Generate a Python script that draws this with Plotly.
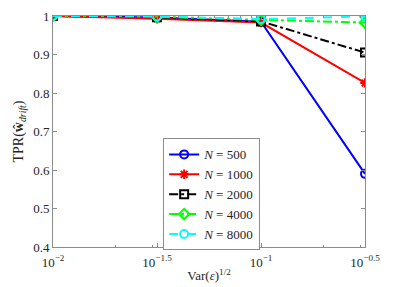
import numpy as np
import plotly.graph_objects as go

x_vals = [10**-2, 10**-1.5, 10**-1, 10**-0.5]
n_labels = ["500", "1000", "2000", "4000", "8000"]
tpr_500 = [1.0, 0.996, 0.985, 0.59]
tpr_1000 = [1.0, 0.993, 0.983, 0.826]
tpr_2000 = [1.0, 0.997, 0.986, 0.905]
tpr_4000 = [1.0, 0.998, 0.990, 0.983]
tpr_8000 = [1.0, 0.999, 0.992, 0.999]
x_tick_vals = [10**-2, 10**-1.5, 10**-1, 10**-0.5]
x_tick_text = ["10<sup>−2</sup>", "10<sup>−1.5</sup>", "10<sup>−1</sup>", "10<sup>−0.5</sup>"]
y_tick_vals = [0.4, 0.5, 0.6, 0.7, 0.8, 0.9, 1.0]
y_tick_text = ["0.4", "0.5", "0.6", "0.7", "0.8", "0.9", "1"]

series = [tpr_500, tpr_1000, tpr_2000, tpr_4000, tpr_8000]
colors = ["#0000ff", "#ff0000", "#000000", "#00ff00", "#00ffff"]
dashes = ["solid", "solid", "dashdot", "dashdot", "dash"]
symbols = ["circle-open", "asterisk-open", "square-open", "diamond-open", "circle-open"]

fig = go.Figure()
for vals, lab, c, d, s in zip(series, n_labels, colors, dashes, symbols):
    fig.add_trace(go.Scatter(
        x=x_vals, y=vals, mode="lines+markers",
        name=f"<i>N</i> = {lab}",
        line=dict(color=c, width=2, dash=d),
        marker=dict(symbol=s, size=8, color=c, line=dict(color=c, width=2)),
    ))

minor_x = []
for k in [-2, -1]:
    for m in range(2, 10):
        v = m * 10**k
        if v <= 10**-0.5:
            minor_x.append(v)

FONT = "Liberation Serif, serif"
axis_common = dict(
    showline=True, linecolor="#8c8c8c", linewidth=1, mirror="ticks",
    ticks="inside", ticklen=4, tickcolor="#8c8c8c", showgrid=False, zeroline=False,
    tickfont=dict(family=FONT, size=13, color="#262626"),
    automargin=False,
)

# page body adds an 8px offset; figure sized/margined to compensate
fig.update_layout(
    width=387, height=279,
    margin=dict(l=45, r=30, t=8, b=40),
    paper_bgcolor="white", plot_bgcolor="white",
    font=dict(family=FONT, size=13, color="#262626"),
    xaxis=dict(type="log", range=[-2, -0.5], tickmode="array",
               tickvals=x_tick_vals, ticktext=x_tick_text,
               ticklabelstandoff=3,
               minor=dict(tickmode="array", tickvals=minor_x, ticks="inside",
                          ticklen=2, tickcolor="#8c8c8c"),
               title=dict(text="Var(<i>ε</i>)<sup>1/2</sup>", standoff=2,
                          font=dict(size=13)),
               **axis_common),
    yaxis=dict(range=[0.4, 1.0], tickmode="array", tickvals=y_tick_vals,
               ticktext=y_tick_text,
               title=dict(text="TPR(<b>ŵ</b><sub><i>drift</i></sub>)", standoff=6,
                          font=dict(size=14)),
               **axis_common),
    legend=dict(x=0.353, y=0.47, xanchor="left", yanchor="top",
                bgcolor="white", bordercolor="#8c8c8c", borderwidth=1,
                font=dict(family=FONT, size=13, color="#262626"),
                tracegroupgap=0, itemwidth=30),
    showlegend=True,
)

fig.write_html("out.html")
